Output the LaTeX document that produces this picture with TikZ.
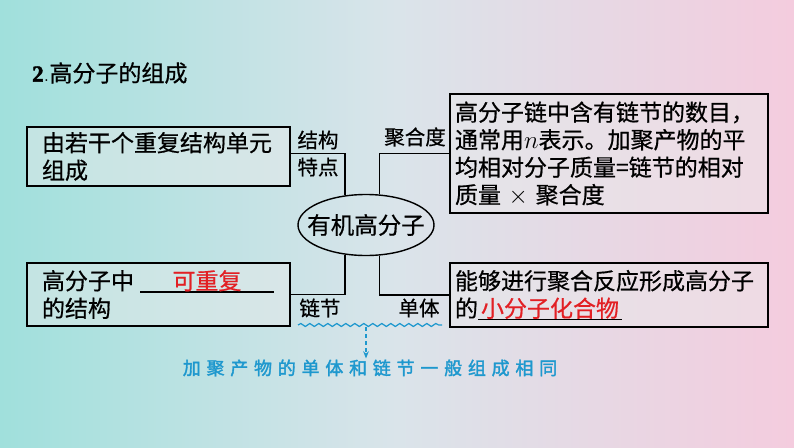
\documentclass[tikz,border=0pt]{standalone}
\usepackage{fontspec}
\usepackage{xcolor}
\usetikzlibrary{shapes.geometric, arrows.meta, positioning, calc, decorations.pathmorphing}
\newfontfamily\cjk[FakeBold=0.6]{Noto Sans CJK SC}
\newfontfamily\notefont[LetterSpace=32, FakeBold=1.8]{Noto Sans CJK SC}
\newfontfamily\numfont[FakeBold=2]{Liberation Serif}
\definecolor{bgteal}{RGB}{160,224,220}
\definecolor{bgmid}{RGB}{218,228,234}
\definecolor{bgpink}{RGB}{244,204,222}
\definecolor{hintblue}{RGB}{30,152,206}
\definecolor{fillred}{RGB}{226,32,36}
\newcommand\fillin[2]{\rlap{\rule[-3pt]{#1}{1.2pt}}\makebox[#1]{\textcolor{fillred}{#2}}}
\tikzset{
  infobox/.style = {rectangle, draw, line width=1.6pt, fill=white!92!black, fill opacity=0.45,
                    text opacity=1, align=left, inner ysep=2pt,
                    font=\cjk\fontsize{23}{27.5}\selectfont},
  hub/.style     = {ellipse, draw, line width=1.4pt, inner sep=0pt,
                    minimum width=136pt, minimum height=61pt,
                    font=\cjk\fontsize{23.5}{27}\selectfont},
  tag/.style     = {inner sep=0pt, font=\cjk\fontsize{20.5}{24}\selectfont},
  link/.style    = {line width=1.5pt},
  wave/.style    = {hintblue, line width=1.2pt,
                    decorate, decoration={snake, segment length=9pt, amplitude=1.5pt}},
  hint/.style    = {hintblue, line width=1.1pt, dash pattern=on 4pt off 3pt,
                    -{Stealth[length=2.5mm, width=2mm]}},
}
\begin{document}
\begin{tikzpicture}[x=1pt, y=-1pt]
  \shade[left color=bgteal, right color=bgpink, middle color=bgmid]
    (0,0) rectangle (794,447);

  \node[anchor=west, inner sep=0pt] (title) at (32,73)
    {\fontsize{23}{26}\selectfont{\numfont\bfseries 2}.\cjk 高分子的组成};

  % four boxes round the hub
  \node[infobox, inner xsep=15pt, text width=233pt, minimum height=59pt] (struct) at (158.5,156.5)
    {由若干个重复结构单元\\组成};
  \node[infobox, inner xsep=5pt, text width=308pt, minimum height=119pt] (degree) at (609,153.5)
    {高分子链中含有链节的数目，\\通常用$n$表示。加聚产物的平\\均相对分子质量=链节的相对\\质量 $\times$ 聚合度};
  \node[infobox, inner xsep=15pt, text width=233pt, minimum height=63pt] (unit) at (158.5,294.5)
    {高分子中\hspace{6pt}\fillin{134pt}{可重复}\\的结构};
  \node[infobox, inner xsep=5pt, text width=308pt, minimum height=64pt] (mono) at (609,295)
    {能够进行聚合反应形成高分子\\的\fillin{144pt}{小分子化合物}};

  \node[hub] (org) at (366,225) {\makebox[0pt]{有机高分子}};

  \draw[link] ([yshift=3pt]struct.east) -| (org.125);
  \draw[link] (degree.west) -| (org.66);
  \draw[link] (unit.east) -| (org.235);
  \draw[link] (mono.west) -| (org.294);

  \node[tag] (jg) at (318,140) {结构};
  \node[tag] (td) at (318,167) {特点};
  \node[tag] (jhd) at (415,137) {聚合度};
  \node[tag] (lj) at (320,308) {链节};
  \node[tag] (dt) at (419,308) {单体};

  % remark under the two lower labels
  \coordinate (wL) at (298,325);
  \coordinate (wR) at (442,325);
  \coordinate (wM) at (366,327);
  \draw[wave] (wL) -- (wR);
  \node[inner sep=1pt, text=hintblue, font=\notefont\fontsize{18}{22}\selectfont] (note) at (370,368)
    {加聚产物的单体和链节一般组成相同};
  \draw[hint] (wM) -- (wM |- note.north);
\end{tikzpicture}
\end{document}
